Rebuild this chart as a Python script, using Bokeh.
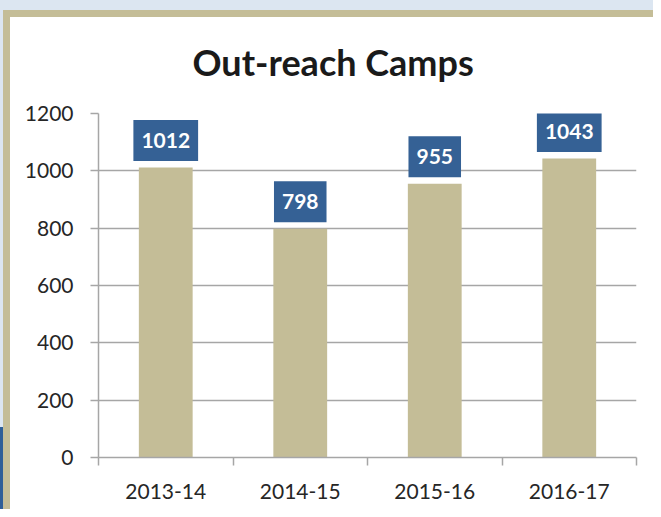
from bokeh.plotting import figure
from bokeh.models import ColumnDataSource, FixedTicker, Range1d
from bokeh.core.properties import value
from bokeh.embed import file_html
from bokeh.resources import INLINE

categories = ["2013-14", "2014-15", "2015-16", "2016-17"]
camps = [1012, 798, 955, 1043]
y_ticks = [0, 200, 400, 600, 800, 1000, 1200]

xpos = [i + 0.5 for i in range(len(categories))]
src = ColumnDataSource(dict(x=xpos, y=camps, lbl=[str(v) for v in camps]))

p = figure(width=653, height=509, output_backend="svg", toolbar_location=None,
           x_range=Range1d(0, len(categories)), y_range=Range1d(0, 1200),
           min_border_left=98, min_border_right=17, min_border_top=113, min_border_bottom=52)

# page frame: light blue backdrop, khaki border, white panel, dark blue strip
p.styles = {
    "background": ("linear-gradient(#ffffff,#ffffff) 10px 17px / 660px 520px no-repeat, "
                   "linear-gradient(#c4bd97,#c4bd97) 3px 10px / 670px 530px no-repeat, "
                   "linear-gradient(#2f5f98,#2f5f98) 0px 427px / 3px 100px no-repeat, "
                   "#dce6f1"),
}
p.border_fill_alpha = 0
p.border_fill_color = None

p.title.text = "Out-reach Camps"
p.title.text_font = "Lato"
p.title.text_font_size = "36px"
p.title.text_font_style = "bold"
p.title.text_color = "#1a1a1a"
p.title.align = "left"
p.title.offset = 94
p.title.standoff = 59

p.vbar(x="x", top="y", width=0.4, source=src, fill_color="#c4bd97", line_color=None)

p.text(x="x", y="y", text="lbl", source=src, text_align="center",
       text_baseline="middle", y_offset=-27, text_color="white",
       text_font=value("Lato"), text_font_style="bold", text_font_size="21px",
       background_fill_color="#356195", padding=dict(left=8, right=8, top=13, bottom=13))

p.outline_line_color = None
p.background_fill_color = "white"

p.xgrid.grid_line_color = None
p.ygrid.grid_line_color = "#a6a6a6"
p.ygrid.grid_line_width = 1.5

p.yaxis.ticker = FixedTicker(ticks=y_ticks)
p.xaxis.ticker = FixedTicker(ticks=xpos, minor_ticks=list(range(len(categories) + 1)))
p.xaxis.major_label_overrides = {x: c for x, c in zip(xpos, categories)}

for ax in (p.xaxis, p.yaxis):
    ax.axis_line_color = "#a6a6a6"
    ax.axis_line_width = 1.5
    ax.major_label_text_font = "Lato"
    ax.major_label_text_font_size = "21px"
    ax.major_label_text_color = "#262626"
    ax.major_tick_in = 0
    ax.minor_tick_in = 0

p.yaxis.major_tick_out = 8
p.yaxis.major_tick_line_color = "#a6a6a6"
p.yaxis.major_tick_line_width = 1.5
p.yaxis.minor_tick_line_color = None
p.yaxis.major_label_standoff = 17

p.xaxis.major_tick_line_color = None
p.xaxis.minor_tick_out = 8
p.xaxis.minor_tick_line_color = "#a6a6a6"
p.xaxis.minor_tick_line_width = 1.5
p.xaxis.major_label_standoff = 18

open("out.html", "w").write(file_html(p, INLINE))
